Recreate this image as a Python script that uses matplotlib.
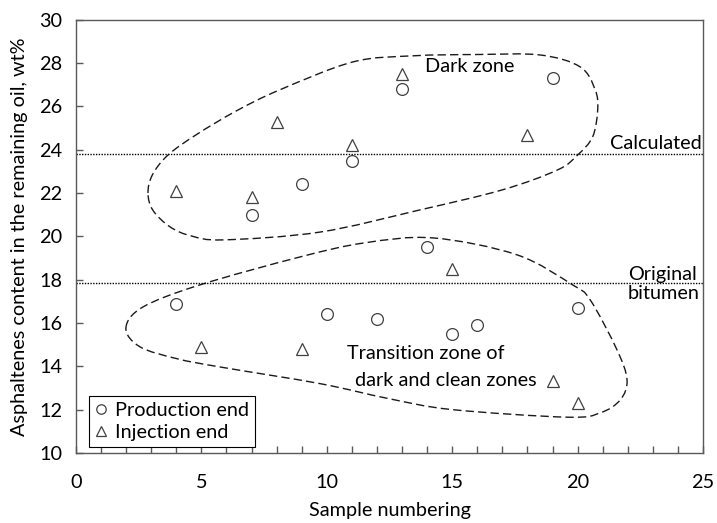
import numpy as np
import matplotlib
matplotlib.use("Agg")
import matplotlib.pyplot as plt
from matplotlib.path import Path
from matplotlib.patches import PathPatch
from matplotlib.ticker import MultipleLocator

plt.rcParams['font.family'] = ['Lato', 'DejaVu Sans']
plt.rcParams['font.size'] = 14.3

# sample data
prod_x = [4, 7, 9, 10, 11, 12, 13, 14, 15, 16, 19, 20]
prod_y = [16.9, 21.0, 22.4, 16.4, 23.5, 16.2, 26.8, 19.5, 15.5, 15.9, 27.3, 16.7]
inj_x = [4, 5, 7, 8, 9, 11, 13, 15, 18, 19, 20]
inj_y = [22.1, 14.9, 21.8, 25.3, 14.8, 24.2, 27.5, 18.5, 24.7, 13.3, 12.3]

calculated = 23.8
original_bitumen = 17.85

# outlines of the two zones (data coords, clockwise)
dark_zone = [(2.87, 22.0), (3.05, 22.85), (3.67, 23.76), (4.8, 24.7), (6.4, 25.8),
             (8.13, 26.77), (11.05, 28.06), (13.44, 28.34), (16.0, 28.4), (18.5, 28.38),
             (20.1, 27.83), (20.7, 26.77), (20.8, 25.84), (20.6, 24.6), (20.0, 23.76),
             (19.2, 23.07), (17.0, 22.15), (13.7, 21.22), (9.73, 20.2), (5.9, 19.84),
             (4.6, 20.02), (3.75, 20.44), (3.07, 21.2)]
trans_zone = [(1.99, 15.77), (2.67, 16.74), (4.94, 17.76), (8.93, 19.05), (11.5, 19.7),
              (14.23, 19.93), (17.58, 19.15), (19.8, 17.76), (20.5, 17.07), (21.57, 14.76),
              (21.97, 13.37), (21.7, 12.45), (20.9, 11.85), (19.6, 11.65), (15.0, 12.0),
              (12.5, 12.5), (9.73, 13.2), (5.74, 13.97), (4.03, 14.35), (2.55, 14.9)]


def closed_smooth_path(pts):
    # catmull-rom anchors -> cubic bezier path
    p = np.array(pts)
    n = len(p)
    verts = [p[0]]
    codes = [Path.MOVETO]
    for i in range(n):
        p0, p1, p2, p3 = p[i - 1], p[i], p[(i + 1) % n], p[(i + 2) % n]
        verts += [p1 + (p2 - p0) / 6, p2 - (p3 - p1) / 6, p2]
        codes += [Path.CURVE4] * 3
    return Path(verts, codes)


fig = plt.figure(figsize=(7.17, 5.23), dpi=100)
ax = fig.add_axes([0.106, 0.134, 0.8745, 0.828])

for outline in (dark_zone, trans_zone):
    ax.add_patch(PathPatch(closed_smooth_path(outline), fill=False, ec='#1a1a1a',
                           lw=1.0, ls=(0, (6, 3))))

ax.axhline(calculated, color='k', lw=1.0, ls=(0, (1, 1)))
ax.axhline(original_bitumen, color='k', lw=1.0, ls=(0, (1, 1)))

ax.plot(prod_x, prod_y, 'o', ms=8.5, mfc='white', mec='#404040', mew=0.9,
        ls='none', label='Production end')
ax.plot(inj_x, inj_y, '^', ms=8.5, mfc='white', mec='#404040', mew=0.9,
        ls='none', label='Injection end')

ax.text(15.7, 27.83, 'Dark zone', ha='center', va='center')
ax.text(24.95, 24.3, 'Calculated', ha='right', va='center')
ax.text(22.0, 17.8, 'Original\nbitumen', ha='left', va='center', linespacing=1.15)
ax.text(13.95, 14.57, 'Transition zone of', ha='center', va='center')
ax.text(14.75, 13.33, 'dark and clean zones', ha='center', va='center')

ax.set_xlim(0, 25)
ax.set_ylim(10, 30)
ax.xaxis.set_major_locator(MultipleLocator(5))
ax.xaxis.set_minor_locator(MultipleLocator(1))
ax.yaxis.set_major_locator(MultipleLocator(2))
ax.tick_params(which='both', direction='in', length=5, width=1, color='#595959')
ax.tick_params(axis='y', pad=10)
ax.tick_params(axis='x', pad=15)
for s in ax.spines.values():
    s.set_color('#595959')
    s.set_linewidth(1.0)

ax.set_xlabel('Sample numbering', labelpad=8)
ax.set_ylabel('Asphaltenes content in the remaining oil, wt%', labelpad=7.5)

leg = ax.legend(loc='lower left', bbox_to_anchor=(0.021, 0.014), borderaxespad=0,
                fancybox=False, edgecolor='k', framealpha=1, handlelength=0.6,
                handletextpad=0.4, borderpad=0.3, labelspacing=0.25, markerscale=0.8)
leg.get_frame().set_linewidth(0.8)

fig.savefig('out.png', dpi=100)
